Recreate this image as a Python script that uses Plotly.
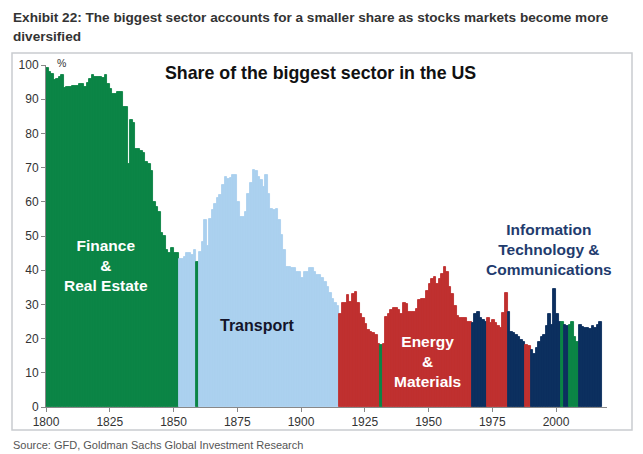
import plotly.graph_objects as go

# ---------------- data ----------------
years = list(range(1800, 2018))

share = [
    # 1800-1851 Finance & Real Estate
    99, 98, 97.5, 95.5, 96, 96.5, 97, 93.2, 93.5, 93.5,
    93.8, 94, 94, 94.4, 94.4, 93.5, 94.8, 96, 97, 96.5,
    96.5, 96.5, 96.2, 97.2, 94.4, 93, 91.6, 91.6, 92, 92,
    87.8, 87.8, 71.2, 83.9, 83, 75.5, 75.5, 75, 74.2, 71.7,
    71, 69, 60, 58.5, 57, 51, 50, 46, 45, 46.5,
    45, 45,
    # 1852-1914 Transport
    43.4, 43.4, 43.8, 44.9, 44.9, 44.5, 45.9, 42.3, 45.4, 48.3,
    54.6, 47, 55, 57.6, 59.5, 61, 62, 65, 67.3, 66.8,
    67, 67.8, 67.8, 60, 55.6, 55.6, 57, 62.4, 65.4, 69.3,
    69, 67.3, 66.3, 64.4, 67.8, 62.4, 58, 57.6, 58, 54.6,
    50.2, 45.9, 41, 41, 40.5, 40.5, 39.5, 39.5, 37.6, 39.5,
    39.5, 40.5, 40.5, 39.5, 38.5, 38.5, 37.6, 36.6, 35.1, 33.2,
    31.7, 30.5, 29.5,
    # 1915-1966 Energy & Materials
    27.3, 30.3, 30.3, 32.7, 30.8, 33, 33.5, 30.3, 27.3, 26,
    24.4, 22.4, 21.8, 21.5, 21, 18.5, 18, 18.5, 26.3, 27.3,
    28.3, 28.9, 28.9, 28.3, 27.3, 30.3, 30, 27.8, 27.8, 27.8,
    28.8, 31.2, 31.7, 31.7, 34, 36, 37.5, 38, 36, 37.5,
    39, 41, 39.5, 35, 33, 29.5, 26.5, 26, 26, 26,
    25, 25,
    # 1967-2017
    24.6, 27.3, 27.8, 25.9, 25.4, 25, 25.9, 24.5, 25.5, 24.5,
    23.6, 23.2, 27.5, 33.4, 27.8, 22, 21.5, 21, 20.5, 19.5,
    19, 18.2, 17.7, 16.8, 15.4, 17.3, 19, 20.5, 21, 23.6,
    27.3, 24, 34.6, 27.3, 25, 25, 24, 23.6, 24, 25,
    20.5, 19, 24, 23.5, 23.2, 23.2, 22.7, 23.6, 23.2, 24,
    25,
]

# (first year, last year, biggest sector)
sector_periods = [
    (1800, 1851, "Finance"),
    (1852, 1858, "Transport"),
    (1859, 1859, "Finance"),
    (1860, 1914, "Transport"),
    (1915, 1930, "Energy"),
    (1931, 1931, "Finance"),
    (1932, 1966, "Energy"),
    (1967, 1972, "IT"),
    (1973, 1980, "Energy"),
    (1981, 1987, "IT"),
    (1988, 1989, "Energy"),
    (1990, 2001, "IT"),
    (2002, 2002, "Finance"),
    (2003, 2004, "IT"),
    (2005, 2008, "Finance"),
    (2009, 2017, "IT"),
]

sector_colors = {
    "Finance": "#0b8445",
    "Transport": "#abd0ef",
    "Energy": "#c0302f",
    "IT": "#0c2f5f",
}

x_ticks = [1800, 1825, 1850, 1875, 1900, 1925, 1950, 1975, 2000]
y_ticks = [0, 10, 20, 30, 40, 50, 60, 70, 80, 90, 100]

title_line1 = "Exhibit 22: The biggest sector accounts for a smaller share as stocks markets become more"
title_line2 = "diversified"
chart_title = "Share of the biggest sector in the US"
source_text = "Source: GFD, Goldman Sachs Global Investment Research"

# ---------------- build ----------------
sector_of = {}
for a, b, s in sector_periods:
    for y in range(a, b + 1):
        sector_of[y] = s
colors = [sector_colors[sector_of[y]] for y in years]

OFF = 8                      # page body margin of the html page
PAGE_W, PAGE_H = 643, 454
W, H = PAGE_W - OFF, PAGE_H - OFF
# plot area in page pixels
P_LEFT, P_RIGHT, P_TOP, P_BOTTOM = 46, 607, 65, 407
L, T = P_LEFT - OFF, P_TOP - OFF
R, B = PAGE_W - P_RIGHT, PAGE_H - P_BOTTOM
PW, PH = P_RIGHT - P_LEFT, P_BOTTOM - P_TOP


def px(xp):
    return (xp - P_LEFT) / PW


def py(yp):
    return (P_BOTTOM - yp) / PH


fig = go.Figure()
fig.add_trace(go.Bar(
    x=years, y=share, width=1, offset=0,
    marker=dict(color=colors, line=dict(color=colors, width=0.9)),
    hoverinfo="x+y",
))

narrow = "Liberation Sans, Arial, sans-serif"
sans = "Liberation Sans, Arial, Helvetica, sans-serif"

ann = []
ann.append(dict(text="<b>" + title_line1 + "</b>", x=px(11), y=py(17), xanchor="left", yanchor="middle",
                font=dict(family=narrow, size=13.6, color="#333333")))
ann.append(dict(text="<b>" + title_line2 + "</b>", x=px(11), y=py(37), xanchor="left", yanchor="middle",
                font=dict(family=narrow, size=13.6, color="#333333")))
ann.append(dict(text="<b>" + chart_title + "</b>", x=px(320), y=py(73), xanchor="center", yanchor="middle",
                font=dict(family=sans, size=17.8, color="#111111")))
ann.append(dict(text="%", x=px(55), y=py(63), xanchor="left", yanchor="middle",
                font=dict(family=sans, size=10.5, color="#333333")))
ann.append(dict(text=source_text, x=px(11), y=py(445), xanchor="left", yanchor="middle",
                font=dict(family=narrow, size=11, color="#555555")))
ann.append(dict(text="<b>Finance<br>&<br>Real Estate</b>", x=px(106), y=py(265), xanchor="center", yanchor="middle",
                font=dict(family=sans, size=15.5, color="#ffffff")))
ann.append(dict(text="<b>Transport</b>", x=px(257), y=py(325), xanchor="center", yanchor="middle",
                font=dict(family=sans, size=16, color="#14142a")))
ann.append(dict(text="<b>Energy<br>&<br>Materials</b>", x=px(427), y=py(361), xanchor="center", yanchor="middle",
                font=dict(family=sans, size=15.5, color="#ffffff")))
ann.append(dict(text="<b>Information<br>Technology &<br>Communications</b>", x=px(549), y=py(249),
                xanchor="center", yanchor="middle",
                font=dict(family=sans, size=15.5, color="#1f3c6e")))
for a in ann:
    a.update(xref="paper", yref="paper", showarrow=False)

fig.update_layout(
    width=W, height=H,
    margin=dict(l=L, r=R, t=T, b=B, pad=0),
    paper_bgcolor="#ffffff", plot_bgcolor="#ffffff",
    bargap=0, showlegend=False,
    annotations=ann,
    shapes=[dict(type="rect", xref="paper", yref="paper",
                 x0=px(12), x1=px(632), y0=py(430), y1=py(53),
                 line=dict(color="#c9ccd0", width=1.5), layer="below")],
    xaxis=dict(range=[1800, 2020], tickvals=x_ticks, ticks="outside", ticklen=4,
               tickcolor="#888888", showline=True, linecolor="#888888", linewidth=1,
               showgrid=False, zeroline=False,
               tickfont=dict(family=sans, size=12, color="#333333")),
    yaxis=dict(range=[0, 100], tickvals=y_ticks, ticks="outside", ticklen=4,
               tickcolor="#888888", showline=True, linecolor="#888888", linewidth=1,
               showgrid=False, zeroline=False,
               tickfont=dict(family=sans, size=12, color="#333333")),
)

fig.write_html("out.html")
